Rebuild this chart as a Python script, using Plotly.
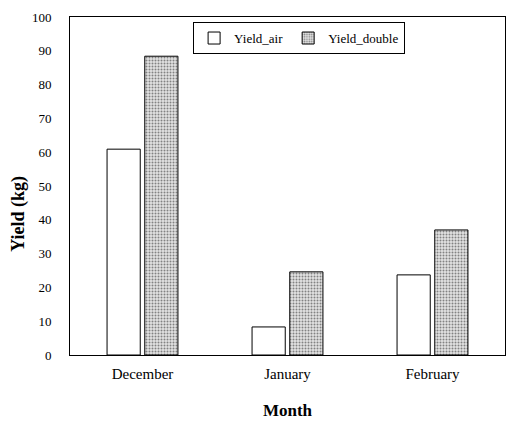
import plotly.graph_objects as go

months = ["December", "January", "February"]
yield_air = [60.9, 8.3, 23.7]
yield_double = [88.4, 24.6, 37.0]

FONT = "Liberation Serif, Times New Roman, serif"

fig = go.Figure()
fig.add_bar(
    x=months, y=yield_air, name="Yield_air",
    marker=dict(color="white", line=dict(color="black", width=1)),
)
fig.add_bar(
    x=months, y=yield_double, name="Yield_double",
    marker=dict(color="#d8d8d8", line=dict(color="black", width=1),
                pattern=dict(shape=".", fgcolor="#222222", bgcolor="#e2e2e2", size=3, solidity=0.35)),
)

fig.update_layout(
    width=519, height=425, barmode="group", bargap=0.48, bargroupgap=0.12,
    paper_bgcolor="white", plot_bgcolor="white",
    font=dict(family=FONT, size=14, color="black"),
    margin=dict(l=70, r=14, t=17, b=70),
    legend=dict(orientation="h", x=0.283, y=0.985, xanchor="left", yanchor="top",
                bordercolor="black", borderwidth=1, bgcolor="white",
                font=dict(family=FONT, size=13, color="black"), itemwidth=30, tracegroupgap=0),
    xaxis=dict(showline=True, linecolor="black", linewidth=1, mirror=True, ticks="",
               automargin=False, ticklabelstandoff=5,
               title=dict(text="<b>Month</b>", font=dict(family=FONT, size=17, color="black"), standoff=23),
               tickfont=dict(family=FONT, size=15, color="black")),
    yaxis=dict(range=[0, 100], dtick=10, showline=True, linecolor="black", linewidth=1, mirror=True,
               showgrid=False, zeroline=False, ticks="", automargin=False, ticklabelstandoff=15,
               tickfont=dict(family=FONT, size=13, color="black")),
)
# y title sits a bit below the axis middle in the original
fig.add_annotation(text="<b>Yield (kg)</b>", textangle=-90, xref="paper", yref="paper",
                   x=-0.12, y=0.417, xanchor="center", yanchor="middle",
                   showarrow=False, font=dict(family=FONT, size=18, color="black"))

# page body has a default 8px margin; drop it so the figure sits at the window origin
fig.write_html("out.html", config={"displayModeBar": False},
               post_script="document.body.style.margin='0';")
